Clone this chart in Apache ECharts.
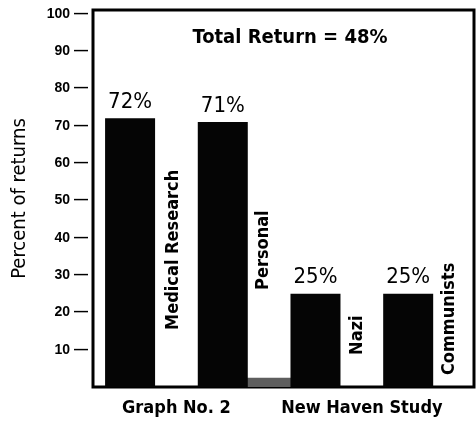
<!DOCTYPE html>
<html>
<head>
<meta charset="utf-8">
<script src="https://cdn.jsdelivr.net/npm/echarts@6/dist/echarts.min.js"></script>
<style>
  html, body { margin: 0; padding: 0; background: #fff; }
  #chart { width: 476px; height: 429px; }
</style>
</head>
<body>
<div id="chart"></div>
<script>
// values
const categories = ['Medical Research', 'Personal', 'Nazi', 'Communists'];
const returnPct = [72, 71, 25, 25];
const shadedGapValue = 2.5;           // small shaded bar between the two studies
const groupLabels = ['Graph No. 2', 'New Haven Study'];
const groupCenters = [0.5, 2.5];
const yTicks = [10, 20, 30, 40, 50, 60, 70, 80, 90, 100];
const titleText = 'Total Return = 48%';

// where the upright category names start (axis units), layout only
const nameAnchors = [[0.47, 15.3], [1.44, 26], [2.455, 8.6], [3.44, 3.2]];

const narrow = "'Liberation Sans Narrow', 'DejaVu Sans Condensed', sans-serif";

const barData = [{
  value: [1.5, shadedGapValue],
  itemStyle: { color: '#5e5e5e' },
  label: { show: false }
}].concat(returnPct.map((v, i) => ({ value: [i, v] })));

const chart = echarts.init(document.getElementById('chart'));
chart.setOption({
  animation: false,
  title: {
    text: titleText,
    left: 285,
    top: 23,
    textAlign: 'center',
    textStyle: { fontFamily: narrow, fontWeight: 'bold', fontSize: 20, color: '#000' }
  },
  grid: {
    left: 93,
    right: 2,
    top: 10,
    bottom: 42,
    show: true,
    borderColor: '#000',
    borderWidth: 3,
    backgroundColor: '#fff'
  },
  xAxis: {
    type: 'value',
    min: -0.4,
    max: 3.71,
    axisLine: { show: false },
    axisTick: { show: false },
    splitLine: { show: false },
    axisLabel: {
      customValues: groupCenters,
      formatter: v => groupLabels[groupCenters.indexOf(v)] || '',
      margin: 12,
      fontFamily: narrow,
      fontWeight: 'bold',
      fontSize: 18,
      color: '#000'
    }
  },
  yAxis: {
    type: 'value',
    min: 0,
    max: 101,
    interval: 10,
    name: 'Percent of returns',
    nameLocation: 'middle',
    nameGap: 63,
    nameTextStyle: { fontFamily: narrow, fontSize: 20, color: '#000' },
    axisLine: { show: false },
    axisTick: { show: false },
    splitLine: { show: false },
    axisLabel: {
      customValues: yTicks,
      formatter: v => v + ' \u2014',
      margin: 5,
      fontFamily: 'Liberation Sans, sans-serif',
      fontWeight: 'bold',
      fontSize: 14,
      color: '#000'
    }
  },
  series: [
    {
      type: 'bar',
      barWidth: 50,
      data: barData,
      itemStyle: { color: '#050505' },
      label: {
        show: true,
        position: 'top',
        distance: 5,
        formatter: p => p.value[1] + '%',
        fontFamily: narrow,
        fontSize: 22,
        color: '#000'
      }
    },
    {
      type: 'scatter',
      symbolSize: 0,
      silent: true,
      data: nameAnchors.map((a, i) => ({ value: a, name: categories[i] })),
      label: {
        show: true,
        position: 'inside',
        rotate: 90,
        align: 'left',
        verticalAlign: 'middle',
        formatter: p => p.name,
        fontFamily: narrow,
        fontWeight: 'bold',
        fontSize: 18,
        color: '#000',
        textBorderWidth: 0,
        opacity: 1
      }
    }
  ]
});
</script>
</body>
</html>
